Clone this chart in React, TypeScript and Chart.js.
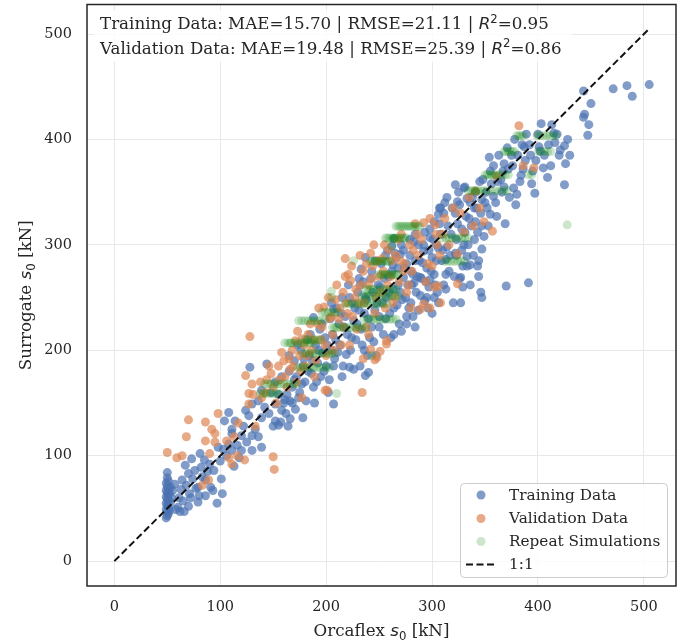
import React, { useEffect, useRef } from 'react';
import { Chart, registerables } from 'chart.js';
Chart.register(...registerables);

// ---------- data ----------
const xTicks = [0, 100, 200, 300, 400, 500];
const yTicks = [0, 100, 200, 300, 400, 500];
const xRange = [-25.8, 530.3];
const yRange = [-23.6, 528.0];
const oneToOne = [0, 505];

const metricNames = ['Training Data', 'Validation Data'];
const maeValues = [15.70, 19.48];
const rmseValues = [21.11, 25.39];
const r2Values = [0.95, 0.86];

const legendLabels = ['Training Data', 'Validation Data', 'Repeat Simulations', '1:1'];

const trainingPoints: [number, number][] = [
  [49,41],[50,43],[51,45],[50,47],[49,49],[51,51],[50,53],[49,55],[51,57],[50,59],[49,61],[51,63],[50,65],[49,67],[51,69],[50,71],[49,74],[51,76],[50,79],[50,84],[52,48],[53,56],[52,64],[54,60],[53,70],[55,67],
  [57,73],[58,49],[60,51],[61,60],[62,47],[63,68],[64,77],[65,57],[66,47],[67,91],[68,72],[70,83],[70,52],[71,64],[72,60],[73,97],[74,78],[76,86],[77,69],[79,56],[79,70],[80,62],[81,102],[82,89],[83,80],[85,96],[86,77],[86,62],[88,85],[90,92],[91,70],[93,67],[94,86],[97,55],[98,108],[100,95],[101,78],[103,106],[102,64],
  [104,133],[106,100],[108,111],[108,141],[111,105],[111,121],[111,125],[113,90],[114,133],[116,110],[118,98],[120,105],[120,119],[122,128],[124,143],[125,113],[127,138],[128,184],[130,105],[130,119],[130,149],[133,125],[136,118],[136,152],[139,108],[139,136],[139,162],[142,146],[144,187],[146,140],[148,160],[150,128],[152,133],[152,149],[155,129],[157,132],[158,143],[160,150],
  [161,153],[163,158],[164,128],[165,180],[166,135],[166,152],[168,165],[170,190],[171,144],[172,175],[175,160],[176,200],[178,136],[178,185],[180,170],[182,210],[184,195],[186,178],[188,165],[188,231],[190,205],[192,188],[194,220],[195,175],[197,198],[199,212],[200,185],[202,160],[204,230],[205,200],[207,149],[207,239],
  [206,215],[208,192],[210,240],[212,225],[213,205],[215,250],[216,185],[218,232],[220,215],[221,262],[222,184],[223,200],[225,245],[226,228],[228,210],[230,255],[231,238],[231,268],[232,185],[233,220],[233,277],[235,265],[236,200],[237,176],[237,288],[238,248],[240,179],[240,230],[241,212],[243,275],[244,255],[246,238],[247,195],[249,262],[250,222],
  [252,282],[253,245],[255,268],[256,230],[258,295],[259,255],[261,212],[262,275],[262,299],[263,281],[264,306],[264,240],[264,215],[266,288],[268,262],[269,225],[270,291],[271,300],[272,248],[273,269],[274,278],[276,225],[276,232],[277,262],[279,290],[280,245],[280,275],[282,272],[283,264],[283,303],[284,222],[284,310],[285,255],[287,238],[288,285],[289,269],[290,268],[292,294],[292,300],[293,247],[295,250],[295,278],[297,260],[298,267],[298,307],[298,315],[300,235],[300,288],
  [302,250],[302,272],[302,322],[304,300],[305,255],[306,297],[306,329],[307,335],[307,320],[308,335],[309,285],[311,262],[312,340],[313,272],[313,286],[314,298],[314,345],[316,275],[318,310],[320,245],[322,292],[322,330],[322,357],[323,290],[324,341],[325,350],[326,268],[327,245],[327,269],[328,315],[329,280],[330,300],[330,354],[331,355],[332,327],[333,280],[333,289],[333,344],[335,325],[336,262],[336,281],[338,345],[340,305],[340,335],[341,322],[342,335],[343,280],[344,285],[345,360],[346,255],[347,250],[347,296],[347,318],[347,343],[349,308],[350,340],
  [352,335],[354,383],[355,329],[355,370],[358,346],[361,327],[362,360],[366,350],[367,370],[368,377],[369,320],[370,261],[372,372],[375,385],[377,354],[379,338],[380,348],[384,366],[385,395],[387,393],[388,380],[391,264],[393,385],[395,370],[397,349],
  [401,393],[402,389],[405,373],[409,364],[413,414],[415,406],[416,397],[420,385],[425,394],[425,357],[426,377],[443,446],[443,421],[444,424],[447,404],[448,414],[450,434],[471,448],[484,451],[489,441],[505,452],
  [152,170],[155,158],[158,175],[162,140],[165,195],[168,150],[170,172],[173,205],[174,155],[177,168],[179,192],[181,152],[183,180],[185,215],[187,190],[189,150],[191,170],[193,200],[196,225],[198,180],[201,205],[203,172],[205,245],[207,185],[209,210],[211,198],[214,235],[215,175],[217,222],[219,196],[222,250],[224,212],[226,182],[227,240],[229,225],[232,262],[234,205],[236,235],[237,250],[239,195],[242,268],[243,222],[245,208],[246,285],[248,245],[250,232],[251,260],[254,215],[256,290],[257,250],[259,270],[260,235],[263,258],[265,292],[267,243],[268,278],[270,255],[271,218],[273,295],[275,250],[276,282],[278,240],[279,305],[281,262],[282,232],[284,285],[286,270],[287,300],[289,252],[291,283],[293,312],[294,265],[296,240],[297,295],[299,275],
  [301,305],[303,262],[304,285],[306,245],[308,310],[310,295],[311,330],[313,258],[315,318],[317,290],[319,335],[321,270],[323,305],[324,320],[326,338],[328,295],[329,260],[331,312],[334,300],[336,340],[337,318],[339,290],[341,350],[343,312],[344,270],[346,330],[348,362],[351,350],[353,318],[356,358],[358,375],[360,340],[363,385],[365,362],[368,355],[371,392],[373,345],[376,375],[378,400],[381,385],[383,360],[386,372],[389,405],[392,395],[394,358],[398,380],[400,405],[403,415],[406,385],[410,395],[412,375],[418,405],[421,390],[428,400],[430,385],
];

const validationPoints: [number, number][] = [
  [50,103],[59,98],[64,100],[68,118],[70,134],[83,72],[89,77],[86,132],[92,125],[95,121],[86,114],[98,140],[90,102],[95,113],[106,114],[108,98],[111,92],[113,118],[116,100],[117,131],[123,96],[127,149],[131,158],[133,128],[124,176],[130,168],[138,170],[139,155],[150,99],[151,87],[128,213],[127,159],[146,185],
  [142,160],[148,178],[153,150],[156,172],[160,190],[163,165],[166,182],[168,200],[171,209],[172,170],[175,195],[177,211],[177,155],[180,185],[183,215],[186,200],[189,175],[192,225],[195,210],[198,241],[199,162],[200,195],[201,162],[203,230],[206,215],[209,248],[212,230],[214,205],[216,255],[218,287],[219,245],[221,272],[223,266],[225,232],[228,258],[231,245],[234,160],[235,192],[235,275],[238,222],[240,262],[242,201],[242,292],[244,280],[246,191],[247,250],[248,193],[250,270],[251,199],[253,287],[255,300],[257,206],[257,209],[258,262],[262,285],[265,250],[268,305],[270,285],[273,275],[278,262],[280,240],[282,295],[286,310],[289,239],[292,321],[292,244],[296,282],[298,240],[302,260],[303,319],[305,300],[306,261],[308,245],[310,310],[324,263],[324,291],[327,330],[339,318],[341,351],[349,322],[357,313],[361,365],[382,413],[386,375],[396,373],
  [144,172],[150,165],[155,185],[158,198],[161,175],[165,192],[169,185],[173,218],[176,180],[179,205],[182,195],[185,225],[188,210],[190,190],[193,240],[196,222],[199,205],[202,250],[205,232],[207,200],[210,262],[213,240],[216,222],[218,270],[220,235],[222,205],[224,280],[227,250],[229,220],[232,290],[233,262],[236,245],[238,282],[240,215],[243,268],[245,300],[246,235],[249,285],[252,255],[254,275],[256,240],[259,295],[261,270],[263,245],[266,290],[269,265],[271,310],[274,282],[276,255],[279,300],[281,275],[284,320],[287,290],[290,305],[294,265],[298,325],[300,280],[304,310],[307,290],[312,325],[316,300],[320,335],[330,312],[335,345],[345,335],
];

// repeat simulations: each row is one surrogate value with several Orcaflex runs
const repeatRowY = [403.6, 388.5, 366.4, 351.3, 317.6, 306.5, 306.5, 284.5, 284.5, 271.9, 257.7, 251.4, 244.0, 236.0, 229.4, 221.5, 210.0, 207.0, 197.0, 228.0, 183.6, 168.0, 159.0];
const repeatRowX: number[][] = [
  [380,382,384,386,399,402,405,408,411,414,417],
  [368,370,372,374,376,378,400,403,406,409,412],
  [350,352,354,356,358,360,363,366,369,372,391,394],
  [334,337,339,341,343,346,349,352,356,360,364,368,371],
  [266,268,270,272,274,276,278,280,282,284,286,288],
  [256,258,260,262,264,266,268,270,272,274,276],
  [310,313,316,319,322,325,328,331,334],
  [312,315,318,321,324,327,330],
  [242,244,246,248,250,252,254,256,258,260],
  [250,252,254,256,258,260,262,264,266,268],
  [238,240,242,245,248,251,254,257,260,263,266],
  [234,236,238,241,244,247,250,253,256,259,262,265,268],
  [218,221,224,227,230,233,236,239,242,245,248,251,254,257],
  [196,199,202,205,208,211],
  [236,239,242,245,248,251,254,257,260,263,266],
  [206,208,210,213,216,219,222,225,228,231,234,237],
  [180,183,186,189,192,195],
  [161,164,167,170,173,176,179,182,185,188],
  [178,181,184,187,190,193,196,199,202,205,208],
  [174,177,180,183,186,189,192,195],
  [173,176,179,182,185,188,191,194,197,200,203],
  [142,145,148,151,154,157,160,163,166,169,172],
  [138,141,144,147,150,153,156],
];
const repeatSingles: [number, number][] = [
  [427.6,319],[226,285],[264,306],[205,256],[205,250],[199,229],[166,207],[243,195],[210,159],[262,299],
];

// ---------- styles ----------
const SERIF = '"DejaVu Serif", serif';
const SANS = '"DejaVu Sans", sans-serif';
const TEXT = '#262626';
const COL_TRAIN = 'rgba(76,114,176,0.7)';
const COL_VAL = 'rgba(221,132,82,0.7)';
const COL_REP = 'rgba(0,128,0,0.2)';
const R = 4.5;

type Seg = { text: string; font: string; dy?: number };
function drawRich(ctx: CanvasRenderingContext2D, segs: Seg[], x: number, y: number, align: 'left' | 'center') {
  let total = 0;
  for (const s of segs) { ctx.font = s.font; total += ctx.measureText(s.text).width; }
  let cx = align === 'center' ? x - total / 2 : x;
  ctx.textAlign = 'left';
  ctx.textBaseline = 'alphabetic';
  for (const s of segs) {
    ctx.font = s.font;
    ctx.fillText(s.text, cx, y + (s.dy || 0));
    cx += ctx.measureText(s.text).width;
  }
}

function roundRect(ctx: CanvasRenderingContext2D, x: number, y: number, w: number, h: number, r: number) {
  ctx.beginPath();
  ctx.moveTo(x + r, y);
  ctx.lineTo(x + w - r, y);
  ctx.arcTo(x + w, y, x + w, y + r, r);
  ctx.lineTo(x + w, y + h - r);
  ctx.arcTo(x + w, y + h, x + w - r, y + h, r);
  ctx.lineTo(x + r, y + h);
  ctx.arcTo(x, y + h, x, y + h - r, r);
  ctx.lineTo(x, y + r);
  ctx.arcTo(x, y, x + r, y, r);
  ctx.closePath();
}

const extras = {
  id: 'extras',
  afterDraw(chart: any) {
    const ctx: CanvasRenderingContext2D = chart.ctx;
    const { left, top, right, bottom } = chart.chartArea;
    ctx.save();
    // frame
    ctx.strokeStyle = TEXT;
    ctx.lineWidth = 1.5;
    ctx.strokeRect(left, top, right - left, bottom - top);

    // metrics box
    const fs = 16.7;
    const serif = `${fs}px ${SERIF}`;
    const ital = `italic ${fs}px ${SANS}`;
    const small = `${(fs * 0.7).toFixed(1)}px ${SANS}`;
    const lines: Seg[][] = metricNames.map((n, i) => [
      { text: `${n}: MAE=${maeValues[i].toFixed(2)} | RMSE=${rmseValues[i].toFixed(2)} | `, font: serif },
      { text: 'R', font: ital },
      { text: '2', font: small, dy: -6.5 },
      { text: `=${r2Values[i].toFixed(2)}`, font: serif },
    ]);
    ctx.fillStyle = 'rgba(255,255,255,0.8)';
    roundRect(ctx, 94, 10, 478, 52, 4);
    ctx.fill();
    ctx.fillStyle = TEXT;
    drawRich(ctx, lines[0], 100, 29.3, 'left');
    drawRich(ctx, lines[1], 100, 53.5, 'left');

    // legend
    ctx.fillStyle = 'rgba(255,255,255,0.8)';
    roundRect(ctx, 460.5, 483.5, 207, 94, 4);
    ctx.fill();
    ctx.strokeStyle = '#cccccc';
    ctx.lineWidth = 1;
    ctx.stroke();
    const rowsY = [495, 518.5, 541.5, 564.5];
    const cols = [COL_TRAIN, COL_VAL, COL_REP];
    ctx.font = `15.3px ${SERIF}`;
    ctx.textBaseline = 'middle';
    ctx.textAlign = 'left';
    legendLabels.forEach((lab, i) => {
      const y = rowsY[i];
      if (i < 3) {
        ctx.fillStyle = cols[i];
        ctx.beginPath();
        ctx.arc(481, y, R, 0, Math.PI * 2);
        ctx.fill();
      } else {
        ctx.strokeStyle = '#111';
        ctx.lineWidth = 2;
        ctx.setLineDash([7, 3.5]);
        ctx.beginPath();
        ctx.moveTo(466, y);
        ctx.lineTo(497, y);
        ctx.stroke();
        ctx.setLineDash([]);
      }
      ctx.fillStyle = TEXT;
      ctx.fillText(lab, 509, y + 1);
    });

    // axis titles
    const afs = 16.7;
    const title = (word: string): Seg[] => [
      { text: word + ' ', font: `${afs}px ${SERIF}` },
      { text: 's', font: `italic ${afs}px ${SANS}` },
      { text: '0', font: `${(afs * 0.7).toFixed(1)}px ${SANS}`, dy: 3.5 },
      { text: ' [kN]', font: `${afs}px ${SERIF}` },
    ];
    ctx.fillStyle = TEXT;
    drawRich(ctx, title('Orcaflex'), (left + right) / 2, 636, 'center');
    ctx.save();
    ctx.translate(31, (top + bottom) / 2);
    ctx.rotate(-Math.PI / 2);
    drawRich(ctx, title('Surrogate'), 0, 0, 'center');
    ctx.restore();

    ctx.restore();
  },
};

export default function App() {
  const ref = useRef<HTMLCanvasElement>(null);
  useEffect(() => {
    if (!ref.current) return;
    const toXY = (p: [number, number][]) => p.map(([x, y]) => ({ x, y }));
    const repeatPts: { x: number; y: number }[] = [];
    repeatRowY.forEach((y, i) => repeatRowX[i].forEach((x) => repeatPts.push({ x, y })));
    repeatSingles.forEach(([x, y]) => repeatPts.push({ x, y }));

    const tickFont = { family: SERIF, size: 14.5 };
    const chart = new Chart(ref.current, {
      type: 'scatter',
      data: {
        datasets: [
          {
            type: 'line',
            label: '1:1',
            data: [{ x: oneToOne[0], y: oneToOne[0] }, { x: oneToOne[1], y: oneToOne[1] }],
            borderColor: '#111',
            borderWidth: 2,
            borderDash: [7, 3.5],
            pointRadius: 0,
            fill: false,
            order: 0,
          } as any,
          {
            label: 'Repeat Simulations',
            data: repeatPts,
            backgroundColor: COL_REP,
            borderWidth: 0,
            pointRadius: R,
            order: 1,
          },
          {
            label: 'Validation Data',
            data: toXY(validationPoints),
            backgroundColor: COL_VAL,
            borderWidth: 0,
            pointRadius: R,
            order: 2,
          },
          {
            label: 'Training Data',
            data: toXY(trainingPoints),
            backgroundColor: COL_TRAIN,
            borderWidth: 0,
            pointRadius: R,
            order: 3,
          },
        ],
      },
      options: {
        animation: false,
        responsive: false,
        devicePixelRatio: 1,
        layout: { padding: { top: 2, right: 10, left: 0, bottom: 0 } },
        plugins: { legend: { display: false }, tooltip: { enabled: false } },
        scales: {
          x: {
            type: 'linear',
            min: xRange[0],
            max: xRange[1],
            afterBuildTicks: (s: any) => { s.ticks = xTicks.map((v) => ({ value: v })); },
            afterFit: (s: any) => { s.height = 57; s.paddingLeft = 0; s.paddingRight = 0; },
            grid: { color: '#e8e8e8', lineWidth: 1, drawTicks: false },
            border: { display: false },
            ticks: { autoSkip: false, maxRotation: 0, padding: 13, font: tickFont, color: TEXT },
          },
          y: {
            type: 'linear',
            min: yRange[0],
            max: yRange[1],
            afterBuildTicks: (s: any) => { s.ticks = yTicks.map((v) => ({ value: v })); },
            afterFit: (s: any) => { s.width = 87; s.paddingTop = 0; s.paddingBottom = 0; },
            grid: { color: '#e8e8e8', lineWidth: 1, drawTicks: false },
            border: { display: false },
            ticks: { autoSkip: false, padding: 15, font: tickFont, color: TEXT },
          },
        },
      },
      plugins: [extras],
    } as any);
    return () => chart.destroy();
  }, []);

  return (
    <div style={{ position: 'absolute', left: 0, top: 0, width: 686, height: 643, background: '#fff' }}>
      <canvas ref={ref} width={686} height={643} style={{ width: 686, height: 643, display: 'block' }} />
    </div>
  );
}
